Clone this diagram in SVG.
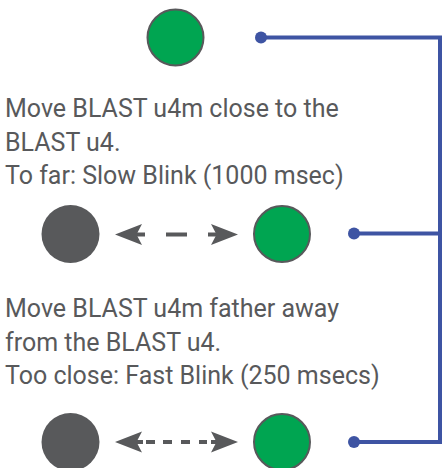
<svg xmlns="http://www.w3.org/2000/svg" width="442" height="468" viewBox="0 0 442 468">
<style>
.txt{font-family:Roboto,"Liberation Sans",sans-serif;font-size:25px;fill:#58595b}
.green{fill:#00a551;stroke:#58595b;stroke-width:2}
.gray{fill:#58595b}
.wire{fill:none;stroke:#3e54a3;stroke-width:4}
.dot{fill:#3e54a3}
.arr{fill:none;stroke:#58595b;stroke-width:4}
.head{fill:#58595b}
</style>
<rect width="442" height="468" fill="#fff"/>
<g id="connectors">
<path class="wire" d="M261 37.5 H440 V442 H354"/>
<path class="wire" d="M354 233.5 H440"/>
<circle class="dot" cx="261" cy="37.5" r="6"/>
<circle class="dot" cx="354" cy="233.5" r="6"/>
<circle class="dot" cx="354" cy="442" r="6"/>
</g>
<g id="led-top"><circle class="green" cx="175.5" cy="37.5" r="28"/></g>
<g id="text-slow">
<text class="txt" x="5" y="117">Move BLAST u4m close to the</text>
<text class="txt" x="5" y="150.5">BLAST u4.</text>
<text class="txt" x="5" y="184">To far: Slow Blink (1000 msec)</text>
</g>
<g id="row-slow">
<circle class="gray" cx="70.5" cy="234" r="29"/>
<circle class="green" cx="282" cy="234" r="28"/>
<path class="arr" d="M136 234.5 H145 M166 234.5 H187 M208 234.5 H217"/>
<path class="head" d="M115 234.5 L142 224 L136.5 234.5 L142 245 Z"/>
<path class="head" d="M238 234.5 L211 224 L216.5 234.5 L211 245 Z"/>
</g>
<g id="text-fast">
<text class="txt" x="5" y="317">Move BLAST u4m father away</text>
<text class="txt" x="5" y="350.5">from the BLAST u4.</text>
<text class="txt" x="5" y="384">Too close: Fast Blink (250 msecs)</text>
</g>
<g id="row-fast">
<circle class="gray" cx="70.5" cy="442" r="29"/>
<circle class="green" cx="282" cy="442" r="28"/>
<path class="arr" stroke-width="3.5" d="M136 442 H143 M146 442 H155 M163 442 H172 M181 442 H190 M199 442 H207 M211 442 H217"/>
<path class="head" d="M115 442 L142 431.5 L136.5 442 L142 452.5 Z"/>
<path class="head" d="M238 442 L211 431.5 L216.5 442 L211 452.5 Z"/>
</g>
</svg>
